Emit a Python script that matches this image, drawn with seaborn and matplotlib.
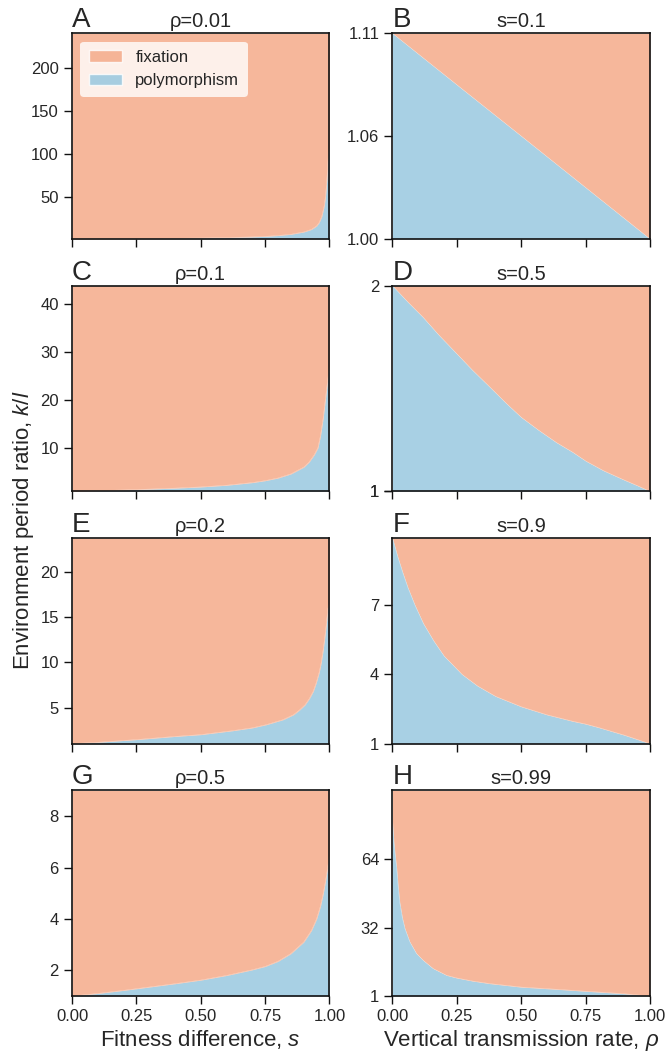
import numpy as np
import matplotlib
matplotlib.use("Agg")
import matplotlib.pyplot as plt
from matplotlib.ticker import FormatStrFormatter
from matplotlib.patches import Patch
import seaborn as sns

# ---- data ----
# left column: boundary k/l vs fitness difference s, for fixed rho
rho_titles = ["ρ=0.01", "ρ=0.1", "ρ=0.2", "ρ=0.5"]
s_A = [0, 0.2, 0.4, 0.5, 0.6, 0.7, 0.75, 0.8, 0.85, 0.9, 0.93, 0.95, 0.96, 0.97, 0.98, 0.985, 0.99, 0.995, 1.0]
k_A = [1, 1.25, 1.65, 2.0, 2.5, 3.3, 3.9, 4.9, 6.3, 9, 12, 16, 20, 27, 40, 52, 70, 95, 108]
s_C = [0, 0.1, 0.2, 0.3, 0.4, 0.5, 0.6, 0.7, 0.75, 0.8, 0.85, 0.9, 0.92, 0.94, 0.955, 0.965, 0.975, 0.985, 0.993, 1.0]
k_C = [1, 1.12, 1.27, 1.45, 1.65, 1.9, 2.25, 2.8, 3.2, 3.75, 4.6, 6.0, 7.0, 8.5, 10, 12.5, 16, 20.5, 24, 27]
s_E = [0, 0.1, 0.25, 0.4, 0.5, 0.625, 0.7, 0.754, 0.819, 0.86, 0.884, 0.905, 0.922, 0.937, 0.948, 0.96, 0.968, 0.975, 0.981, 0.988, 0.994, 1.0]
k_E = [1, 1.15, 1.45, 1.8, 2.0, 2.44, 2.75, 3.1, 3.65, 4.2, 4.74, 5.3, 6.0, 6.8, 7.7, 8.9, 10.0, 11.3, 12.6, 14.3, 16.0, 16.5]
s_G = [0, 0.1, 0.2, 0.3, 0.4, 0.5, 0.6, 0.7, 0.75, 0.8, 0.85, 0.9, 0.93, 0.95, 0.965, 0.975, 0.985, 0.993, 1.0]
k_G = [1, 1.1, 1.22, 1.35, 1.48, 1.62, 1.8, 2.02, 2.15, 2.35, 2.65, 3.1, 3.55, 4.0, 4.5, 4.95, 5.5, 6.0, 6.5]

# right column: boundary k/l vs vertical transmission rate rho, for fixed s
s_titles = ["s=0.1", "s=0.5", "s=0.9", "s=0.99"]
r_B = [0, 0.25, 0.5, 0.75, 1.0]
k_B = [1.1111, 1.0833, 1.0556, 1.0278, 1.0]
r_D = [0, 0.06, 0.119, 0.18, 0.249, 0.31, 0.378, 0.44, 0.5, 0.57, 0.637, 0.7, 0.751, 0.82, 0.896, 0.95, 1.0]
k_D = [2.0, 1.92, 1.846, 1.76, 1.67, 1.59, 1.507, 1.43, 1.36, 1.295, 1.237, 1.19, 1.147, 1.10, 1.057, 1.028, 1.0]
r_F = [0, 0.02, 0.04, 0.06, 0.087, 0.12, 0.16, 0.2, 0.27, 0.33, 0.4, 0.5, 0.6, 0.7, 0.75, 0.8, 0.9, 1.0]
k_F = [9.9, 9.1, 8.4, 7.75, 7.0, 6.2, 5.45, 4.8, 4.0, 3.5, 3.05, 2.6, 2.25, 1.97, 1.85, 1.7, 1.37, 1.0]
r_H = [0, 0.005, 0.01, 0.016, 0.022, 0.028, 0.038, 0.048, 0.067, 0.093, 0.119, 0.158, 0.21, 0.249, 0.31, 0.378, 0.5, 0.637, 0.751, 0.896, 1.0]
k_H = [81, 72, 66, 59.7, 51, 44, 37, 32, 25.9, 20.5, 17.4, 13.6, 10.5, 9.3, 7.9, 6.7, 5.1, 4.1, 3.2, 2.1, 1.0]

left_ylim_top = [240, 43.7, 23.8, 9]
right_ylim_top = [1.1111, 2, 9.9, 95.3]
left_yticks = [[50, 100, 150, 200], [10, 20, 30, 40], [5, 10, 15, 20], [2, 4, 6, 8]]
right_yticks = [[1.0, 1.0556, 1.1111], [1, 1, 2], [1, 4, 7], [1, 32, 64]]
xticks = [0, 0.25, 0.5, 0.75, 1.0]
letters = list("ABCDEFGH")

FIX = "#f4a582"
POLY = "#92c5de"
ALPHA = 0.8

sns.set_theme(style="ticks", context="notebook")
plt.rcParams["font.family"] = ["Liberation Sans", "DejaVu Sans"]
plt.rcParams["mathtext.fontset"] = "custom"
plt.rcParams["mathtext.it"] = "Liberation Sans:italic"
plt.rcParams["mathtext.rm"] = "Liberation Sans"

fig, axes = plt.subplots(4, 2, figsize=(6.7, 10.58), dpi=100)
fig.subplots_adjust(left=0.1075, right=0.970, top=0.9685, bottom=0.0586,
                    wspace=0.245, hspace=0.228)

left_data = [(s_A, k_A), (s_C, k_C), (s_E, k_E), (s_G, k_G)]
right_data = [(r_B, k_B), (r_D, k_D), (r_F, k_F), (r_H, k_H)]

for i in range(4):
    for j, (data, tops, ticks, titles) in enumerate([
            (left_data, left_ylim_top, left_yticks, rho_titles),
            (right_data, right_ylim_top, right_yticks, s_titles)]):
        ax = axes[i, j]
        x, y = data[i]
        x = np.asarray(x)
        y = np.asarray(y)
        top = tops[i]
        ax.fill_between(x, 1, y, color=POLY, alpha=ALPHA, lw=0)
        ax.fill_between(x, y, top, color=FIX, alpha=ALPHA, lw=0)
        sns.lineplot(x=x, y=y, ax=ax, color="white", lw=0.3, alpha=0.5)
        ax.set_xlim(0, 1)
        ax.set_ylim(1, top)
        ax.set_xticks(xticks)
        ax.set_yticks(ticks[i])
        if j == 1 and i == 0:
            ax.yaxis.set_major_formatter(FormatStrFormatter("%.2f"))
        elif j == 1:
            ax.yaxis.set_major_formatter(FormatStrFormatter("%d"))
        if i < 3:
            ax.set_xticklabels([])
        else:
            ax.xaxis.set_major_formatter(FormatStrFormatter("%.2f"))
        ax.tick_params(labelsize=12, length=6, width=1.0, color="#111111")
        for sp in ax.spines.values():
            sp.set_linewidth(1.2)
            sp.set_color("#111111")
        ax.set_title(titles[i], fontsize=14.5, pad=5)
        ax.set_title(letters[2 * i + j], loc="left", fontsize=20, pad=2)
        ax.set_xlabel("")
        ax.set_ylabel("")

axes[3, 0].set_xlabel("Fitness difference, $s$", fontsize=16, labelpad=3)
axes[3, 1].set_xlabel("Vertical transmission rate, $\\rho$", fontsize=16, labelpad=3)
fig.text(0.035, 1 - 530 / 1058, "Environment period ratio, $k/l$", rotation=90,
         fontsize=16, ha="center", va="center")

handles = [Patch(facecolor=FIX, alpha=ALPHA, label="fixation"),
           Patch(facecolor=POLY, alpha=ALPHA, label="polymorphism")]
axes[0, 0].legend(handles=handles, loc="upper left", fontsize=12, frameon=True,
                  edgecolor="none", framealpha=0.8, handlelength=2.0,
                  borderpad=0.5)

fig.savefig("out.png", dpi=100)
